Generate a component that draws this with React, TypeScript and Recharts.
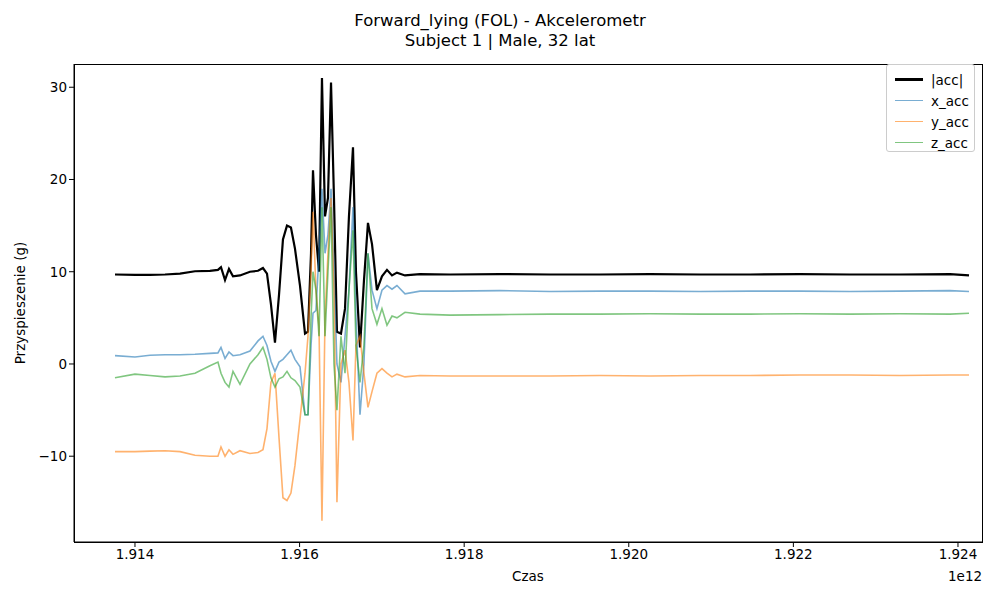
import React from "react";
import { LineChart, Line, XAxis, YAxis } from "recharts";

const czas = [1.913757,1.914,1.914182,1.914365,1.914547,1.914729,1.914911,1.915008,1.915045,1.915094,1.915142,1.915191,1.915276,1.915397,1.915495,1.915555,1.915604,1.915652,1.915701,1.91575,1.915798,1.915847,1.915895,1.915944,1.916005,1.916066,1.916102,1.916139,1.916163,1.916199,1.916236,1.916272,1.916309,1.916345,1.916382,1.916418,1.916454,1.916503,1.916552,1.9166,1.916649,1.916685,1.916734,1.916782,1.916831,1.91688,1.91694,1.917001,1.917062,1.917123,1.917183,1.917281,1.917463,1.917828,1.918435,1.919043,1.91965,1.920258,1.920866,1.921473,1.92208,1.922688,1.923295,1.923903,1.924134];
const accMag = [9.7,9.65,9.65,9.7,9.8,10.05,10.1,10.2,10.5,9.1,10.3,9.5,9.6,10.0,10.1,10.4,9.8,6.5,2.3,7.5,13.5,15,14.8,12.5,8.5,3.3,3.5,12,21,14,10,31,16,18,30.5,18,3.5,3.3,6,16,23.5,10,1.8,9,15.3,13,8,9.5,10.2,9.6,9.9,9.6,9.75,9.7,9.75,9.7,9.7,9.75,9.7,9.7,9.75,9.7,9.7,9.75,9.6];
const xAcc = [0.9,0.75,0.95,1.0,1.0,1.05,1.15,1.2,1.8,0.6,1.3,0.9,1.0,1.4,2.5,3.0,2.0,0.3,-0.8,0.2,0.5,1.0,1.5,0.5,-0.3,-5.5,-5.5,2,5.5,5.8,12,19,12,14,19,10,0,-2,3,8,17,5,-5.5,0,12,8,6,8,8.5,8.1,8.5,7.6,7.9,7.9,7.95,7.85,7.9,7.9,7.85,7.9,7.9,7.85,7.9,7.95,7.85];
const yAcc = [-9.5,-9.5,-9.45,-9.4,-9.5,-9.9,-10,-10,-9.0,-10.0,-9.3,-9.8,-9.4,-9.7,-9.6,-9.3,-7,-2,-1.0,-8,-14.5,-14.8,-14,-11,-6,-1,3,10,16.5,8,4,-17,5,12,18,8,-15,0,1.5,-2,-8.3,2,3,-1,-4.7,-3,-1,-0.5,-1.0,-1.4,-1.1,-1.4,-1.25,-1.3,-1.3,-1.3,-1.25,-1.3,-1.25,-1.25,-1.2,-1.2,-1.25,-1.2,-1.2];
const zAcc = [-1.5,-1.1,-1.25,-1.4,-1.3,-1.0,-0.2,0.2,-1.0,-2.0,-2.5,-0.8,-2.2,0.0,1.0,1.8,0.5,-1.5,-2.5,-1.6,-1.4,-0.8,-1.5,-1.8,-2.5,-5.5,-5.5,5,10,8,3,17,3,10,17,0,-5,3,-1,8,14.5,2,-2,2,12,6,4.3,6,4.2,5.2,5,5.6,5.4,5.3,5.35,5.4,5.4,5.45,5.4,5.4,5.45,5.4,5.45,5.4,5.5];
const xTicks = [1.914,1.916,1.918,1.92,1.922,1.924];
const yTicks = [-10,0,10,20,30];

const data = czas.map((t, i) => ({ t, acc: accMag[i], x: xAcc[i], y: yAcc[i], z: zAcc[i] }));
const font = "DejaVu Sans";
const tickStyle = { fill: "#000", fontSize: 13.5, fontFamily: font };

const legendItems = [
  { label: "|acc|", color: "#000", w: 2.5 },
  { label: "x_acc", color: "rgba(31,119,180,0.6)", w: 1.8 },
  { label: "y_acc", color: "rgba(255,127,14,0.6)", w: 1.8 },
  { label: "z_acc", color: "rgba(44,160,44,0.6)", w: 1.8 },
];

export default function App() {
  return (
    <div style={{ position: "absolute", left: 0, top: 0, width: 1000, height: 600, background: "#fff", fontFamily: font }}>
      <div style={{ position: "absolute", top: 11, width: 1000, textAlign: "center", fontSize: 16.5, lineHeight: "20px" }}>
        Forward_lying (FOL) - Akcelerometr<br />Subject 1 | Male, 32 lat
      </div>
      <LineChart width={1000} height={600} data={data} margin={{ top: 64, left: 0, right: 18, bottom: 0 }}>
        <XAxis dataKey="t" type="number" domain={[1.913259, 1.924292]} ticks={xTicks} allowDataOverflow
          tickFormatter={(v: number) => v.toFixed(3)} tick={tickStyle} tickSize={5} stroke="#000" height={58} />
        <YAxis type="number" domain={[-19.3, 32.52]} ticks={yTicks} allowDataOverflow
          tickFormatter={(v: number) => String(v).replace("-", "\u2212")} tick={tickStyle} tickSize={5} stroke="#000" width={74} />
        <Line dataKey="acc" stroke="#000" strokeWidth={2.2} dot={false} isAnimationActive={false} />
        <Line dataKey="x" stroke="#1f77b4" strokeOpacity={0.6} strokeWidth={1.6} dot={false} isAnimationActive={false} />
        <Line dataKey="y" stroke="#ff7f0e" strokeOpacity={0.6} strokeWidth={1.6} dot={false} isAnimationActive={false} />
        <Line dataKey="z" stroke="#2ca02c" strokeOpacity={0.6} strokeWidth={1.6} dot={false} isAnimationActive={false} />
      </LineChart>
      <div style={{ position: "absolute", left: 74, top: 64, width: 907, height: 477, border: "1px solid #000", pointerEvents: "none" }} />
      <div style={{ position: "absolute", left: 0, width: 1056, top: 568, textAlign: "center", fontSize: 13.5 }}>Czas</div>
      <div style={{ position: "absolute", left: 948, top: 568, fontSize: 13.5 }}>1e12</div>
      <div style={{ position: "absolute", left: 20, top: 303, fontSize: 13.5, transform: "translate(-50%,-50%) rotate(-90deg)", whiteSpace: "nowrap" }}>Przyspieszenie (g)</div>
      <div style={{ position: "absolute", left: 886, top: 64, width: 89, height: 88, border: "1px solid #ccc", borderRadius: 3, background: "rgba(255,255,255,0.8)", padding: "4px 0 0 8px", boxSizing: "border-box" }}>
        {legendItems.map((it) => (
          <div key={it.label} style={{ display: "flex", alignItems: "center", height: 21, fontSize: 13.5 }}>
            <div style={{ width: 28, height: it.w, background: it.color, marginRight: 8 }} />
            <span>{it.label}</span>
          </div>
        ))}
      </div>
    </div>
  );
}
